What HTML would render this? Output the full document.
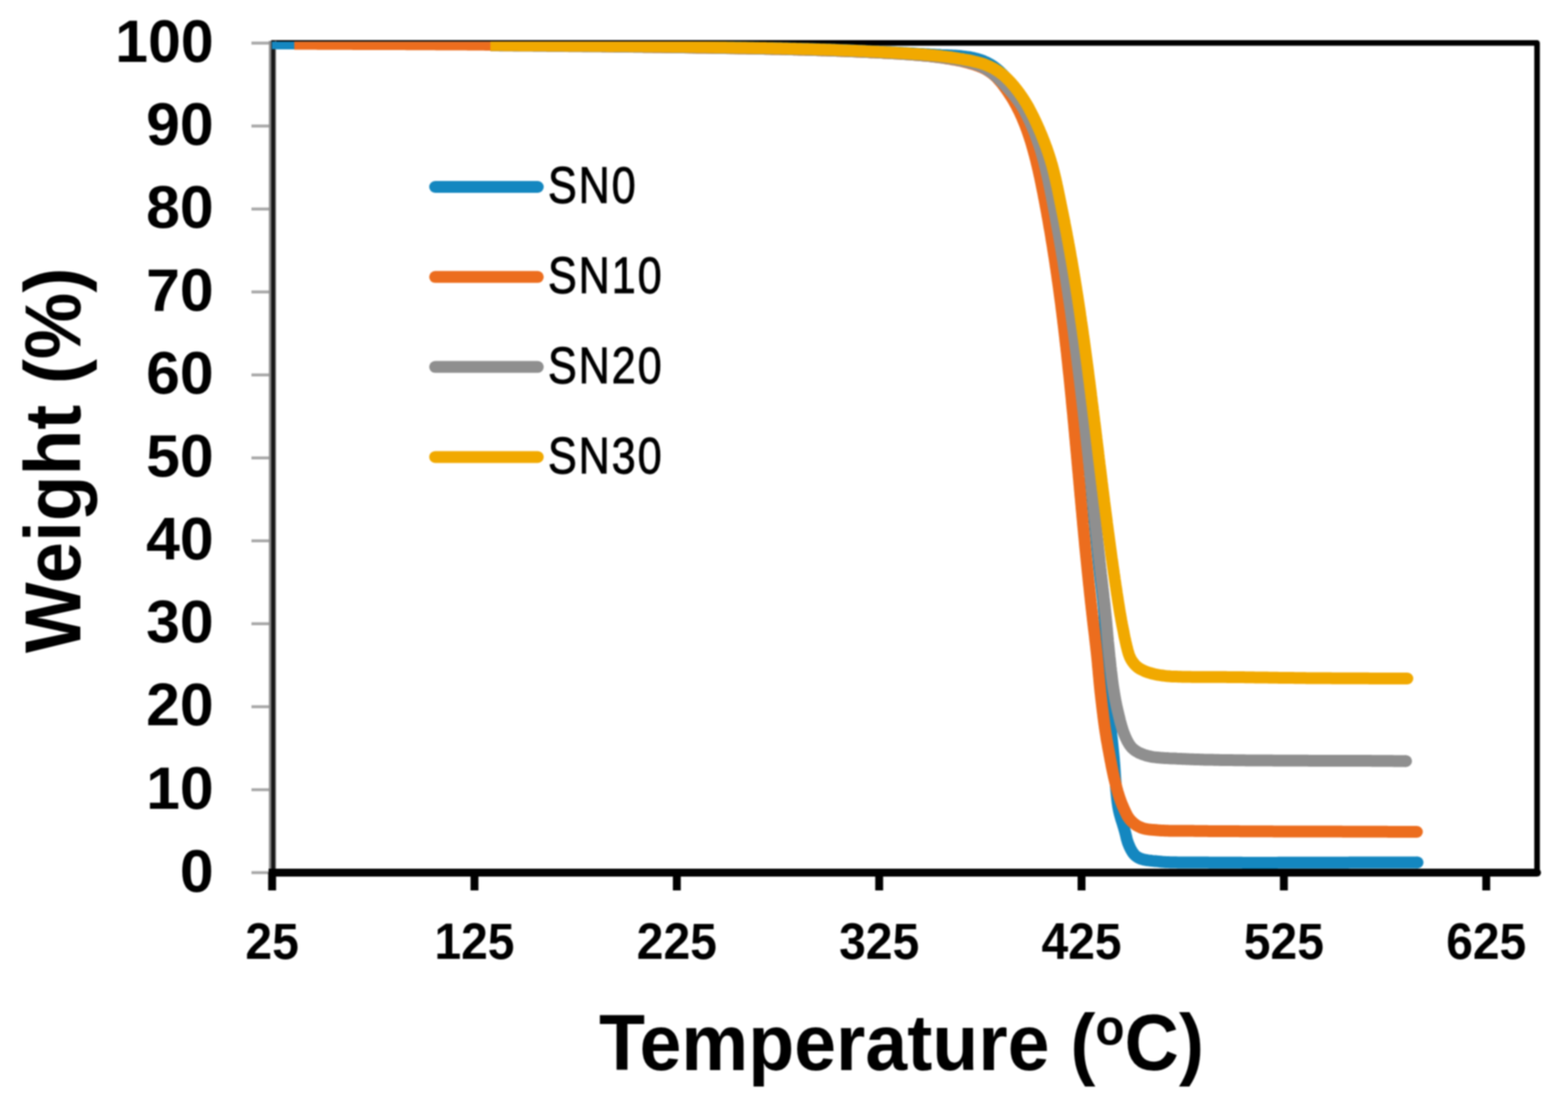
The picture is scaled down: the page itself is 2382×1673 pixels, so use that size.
<!DOCTYPE html>
<html><head><meta charset="utf-8"><style>
html,body{margin:0;padding:0;background:#fff;}
svg{display:block;}
#wrap{filter:blur(0.8px);width:2382px;height:1673px;overflow:hidden;}
text{font-family:"Liberation Sans",Arial,sans-serif;fill:#000;}
.yl text{font-weight:bold;font-size:90px;}
.xl text{font-weight:bold;font-size:78px;}
.lg{font-size:77px;letter-spacing:3.5px;stroke:#000;stroke-width:1.3px;}
.ttl{font-weight:bold;font-size:120px;}
</style></head><body><div id="wrap">
<svg width="2382" height="1673" viewBox="0 0 2382 1673">
<rect width="2382" height="1673" fill="#fff"/>
<defs><clipPath id="pa"><rect x="413" y="63.3" width="1922" height="1264"/></clipPath></defs>
<g stroke="#a8a8a8" stroke-width="4.5"><line x1="382" y1="1326.0" x2="412" y2="1326.0"/><line x1="382" y1="1200.0" x2="412" y2="1200.0"/><line x1="382" y1="1073.9" x2="412" y2="1073.9"/><line x1="382" y1="947.8" x2="412" y2="947.8"/><line x1="382" y1="821.8" x2="412" y2="821.8"/><line x1="382" y1="695.8" x2="412" y2="695.8"/><line x1="382" y1="569.7" x2="412" y2="569.7"/><line x1="382" y1="443.6" x2="412" y2="443.6"/><line x1="382" y1="317.6" x2="412" y2="317.6"/><line x1="382" y1="191.5" x2="412" y2="191.5"/><line x1="382" y1="65.5" x2="412" y2="65.5"/></g>
<path d="M412 65.2 H2335 V1326" fill="none" stroke="#000" stroke-width="8.5" stroke-linejoin="round"/>
<line x1="414" y1="62" x2="414" y2="1326" stroke="#8a8a8a" stroke-width="11"/>
<line x1="415" y1="62" x2="415" y2="1326" stroke="#1a1a1a" stroke-width="6"/>
<g stroke="#000" stroke-width="12"><line x1="413.4" y1="1326" x2="413.4" y2="1353"/><line x1="720.8" y1="1326" x2="720.8" y2="1353"/><line x1="1028.2" y1="1326" x2="1028.2" y2="1353"/><line x1="1335.6" y1="1326" x2="1335.6" y2="1353"/><line x1="1643.0" y1="1326" x2="1643.0" y2="1353"/><line x1="1950.4" y1="1326" x2="1950.4" y2="1353"/><line x1="2257.8" y1="1326" x2="2257.8" y2="1353"/></g>
<line x1="408" y1="1326" x2="2335" y2="1326" stroke="#000" stroke-width="12"/><circle cx="2335" cy="1326" r="6"/>
<g clip-path="url(#pa)" fill="none" stroke-width="18" stroke-linecap="butt" stroke-linejoin="round">
<path d="M404.0 65.8 L407.0 65.8 L410.0 65.8 L413.0 65.8 L416.0 65.8 L419.0 65.8 L422.0 65.9 L425.0 65.9 L428.0 65.9 L431.0 65.9 L434.0 65.9 L437.0 65.9 L440.0 65.9 L443.0 65.9 L446.0 65.9 L449.0 65.9 L452.0 65.9 L455.0 65.9 L458.0 66.0 L461.0 66.0 L464.0 66.0 L467.0 66.0 L470.0 66.0 L473.0 66.0 L476.0 66.0 L479.0 66.0 L482.0 66.0 L485.0 66.0 L488.0 66.0 L491.0 66.0 L494.0 66.0 L497.0 66.0 L500.0 66.0 L503.0 66.1 L506.0 66.1 L509.0 66.1 L512.0 66.1 L515.0 66.1 L518.0 66.1 L521.0 66.1 L524.0 66.1 L527.0 66.1 L530.0 66.1 L533.0 66.1 L536.0 66.1 L539.0 66.1 L542.0 66.1 L545.0 66.1 L548.0 66.1 L551.0 66.1 L554.0 66.2 L557.0 66.2 L560.0 66.2 L563.0 66.2 L566.0 66.2 L569.0 66.2 L572.0 66.2 L575.0 66.2 L578.0 66.2 L581.0 66.2 L584.0 66.2 L587.0 66.2 L590.0 66.2 L593.0 66.2 L596.0 66.2 L599.0 66.3 L602.0 66.3 L605.0 66.3 L608.0 66.3 L611.0 66.3 L614.0 66.3 L617.0 66.3 L620.0 66.3 L623.0 66.3 L626.0 66.3 L629.0 66.3 L632.0 66.3 L635.0 66.4 L638.0 66.4 L641.0 66.4 L644.0 66.4 L647.0 66.4 L650.0 66.4 L653.0 66.4 L656.0 66.4 L659.0 66.4 L662.0 66.5 L665.0 66.5 L668.0 66.5 L671.0 66.5 L674.0 66.5 L677.0 66.5 L680.0 66.5 L683.0 66.5 L686.0 66.6 L689.0 66.6 L692.0 66.6 L695.0 66.6 L698.0 66.6 L701.0 66.6 L704.0 66.7 L707.0 66.7 L710.0 66.7 L713.0 66.7 L716.0 66.7 L719.0 66.7 L722.0 66.8 L725.0 66.8 L728.0 66.8 L731.0 66.8 L734.0 66.9 L737.0 66.9 L740.0 66.9 L743.0 66.9 L746.0 66.9 L749.0 67.0 L752.0 67.0 L755.0 67.0 L758.0 67.0 L761.0 67.1 L764.0 67.1 L767.0 67.1 L770.0 67.1 L773.0 67.2 L776.0 67.2 L779.0 67.2 L782.0 67.3 L785.0 67.3 L788.0 67.3 L791.0 67.4 L794.0 67.4 L797.0 67.4 L800.0 67.5 L803.0 67.5 L806.0 67.5 L809.0 67.6 L812.0 67.6 L815.0 67.6 L818.0 67.7 L821.0 67.7 L824.0 67.7 L827.0 67.8 L830.0 67.8 L833.0 67.8 L836.0 67.9 L839.0 67.9 L842.0 68.0 L845.0 68.0 L848.0 68.0 L851.0 68.1 L854.0 68.1 L857.0 68.2 L860.0 68.2 L863.0 68.2 L866.0 68.3 L869.0 68.3 L872.0 68.4 L875.0 68.4 L878.0 68.5 L881.0 68.5 L884.0 68.5 L887.0 68.6 L890.0 68.6 L893.0 68.7 L896.0 68.7 L899.0 68.8 L902.0 68.8 L905.0 68.8 L908.0 68.9 L911.0 68.9 L914.0 69.0 L917.0 69.0 L920.0 69.1 L923.0 69.1 L926.0 69.2 L929.0 69.2 L932.0 69.3 L935.0 69.3 L938.0 69.3 L941.0 69.4 L944.0 69.4 L947.0 69.5 L950.0 69.5 L953.0 69.6 L956.0 69.6 L959.0 69.7 L962.0 69.7 L965.0 69.8 L968.0 69.8 L971.0 69.9 L974.0 69.9 L977.0 70.0 L980.0 70.0 L983.0 70.0 L986.0 70.1 L989.0 70.1 L992.0 70.2 L995.0 70.2 L998.0 70.3 L1001.0 70.3 L1004.0 70.4 L1007.0 70.4 L1010.0 70.4 L1013.0 70.5 L1016.0 70.5 L1019.0 70.6 L1022.0 70.6 L1025.0 70.7 L1028.0 70.7 L1031.0 70.8 L1034.0 70.8 L1037.0 70.8 L1040.0 70.9 L1043.0 70.9 L1046.0 71.0 L1049.0 71.0 L1052.0 71.1 L1055.0 71.1 L1058.0 71.1 L1061.0 71.2 L1064.0 71.2 L1067.0 71.3 L1070.0 71.3 L1073.0 71.4 L1076.0 71.4 L1079.0 71.4 L1082.0 71.5 L1085.0 71.5 L1088.0 71.6 L1091.0 71.6 L1094.0 71.7 L1097.0 71.7 L1100.0 71.8 L1103.0 71.8 L1106.0 71.9 L1109.0 71.9 L1112.0 71.9 L1115.0 72.0 L1118.0 72.0 L1121.0 72.1 L1124.0 72.1 L1127.0 72.2 L1130.0 72.2 L1133.0 72.3 L1136.0 72.3 L1139.0 72.4 L1142.0 72.4 L1145.0 72.5 L1148.0 72.5 L1151.0 72.6 L1154.0 72.7 L1157.0 72.7 L1160.0 72.8 L1163.0 72.8 L1166.0 72.9 L1169.0 72.9 L1172.0 73.0 L1175.0 73.1 L1178.0 73.1 L1181.0 73.2 L1184.0 73.2 L1187.0 73.3 L1190.0 73.4 L1193.0 73.5 L1196.0 73.5 L1199.0 73.6 L1202.0 73.7 L1205.0 73.7 L1208.0 73.8 L1211.0 73.9 L1214.0 74.0 L1217.0 74.0 L1220.0 74.1 L1223.0 74.2 L1226.0 74.3 L1229.0 74.4 L1232.0 74.4 L1235.0 74.5 L1238.0 74.6 L1241.0 74.7 L1244.0 74.8 L1247.0 74.9 L1250.0 75.0 L1253.0 75.1 L1256.0 75.2 L1259.0 75.3 L1262.0 75.4 L1265.0 75.5 L1268.0 75.6 L1271.0 75.7 L1274.0 75.8 L1277.0 75.9 L1280.0 76.0 L1283.0 76.1 L1286.0 76.3 L1289.0 76.4 L1292.0 76.5 L1295.0 76.6 L1298.0 76.7 L1301.0 76.9 L1304.0 77.0 L1307.0 77.1 L1310.0 77.3 L1313.0 77.4 L1316.0 77.5 L1319.0 77.7 L1322.0 77.8 L1325.0 78.0 L1328.0 78.1 L1331.0 78.3 L1334.0 78.4 L1337.0 78.5 L1340.0 78.7 L1343.0 78.9 L1346.0 79.0 L1349.0 79.2 L1351.9 79.3 L1354.9 79.5 L1357.9 79.6 L1360.9 79.8 L1363.9 80.0 L1366.9 80.1 L1369.9 80.3 L1372.9 80.5 L1375.9 80.6 L1378.9 80.8 L1381.9 81.0 L1384.9 81.1 L1387.9 81.3 L1390.9 81.5 L1393.9 81.7 L1396.9 81.9 L1399.9 82.0 L1402.9 82.2 L1405.9 82.4 L1408.9 82.6 L1411.9 82.8 L1414.8 83.0 L1417.8 83.1 L1420.8 83.3 L1423.8 83.5 L1426.8 83.6 L1429.8 83.8 L1432.8 83.9 L1435.8 84.0 L1438.8 84.1 L1441.8 84.2 L1444.8 84.3 L1447.8 84.5 L1450.8 84.6 L1453.8 84.8 L1456.8 85.0 L1459.8 85.3 L1462.7 85.6 L1465.7 85.9 L1468.7 86.3 L1471.6 86.7 L1474.6 87.2 L1477.5 87.8 L1480.4 88.5 L1483.3 89.2 L1486.1 90.0 L1489.0 90.9 L1491.8 91.8 L1494.5 92.9 L1497.2 94.1 L1499.9 95.4 L1502.5 96.7 L1505.0 98.2 L1507.5 99.8 L1510.0 101.5 L1512.3 103.2 L1514.7 105.1 L1516.9 107.0 L1519.1 109.0 L1521.3 111.1 L1523.4 113.2 L1525.5 115.3 L1527.5 117.5 L1529.5 119.7 L1531.5 122.0 L1533.4 124.3 L1535.3 126.6 L1537.2 128.9 L1539.0 131.3 L1540.9 133.7 L1542.7 136.1 L1544.4 138.5 L1546.2 140.9 L1548.0 143.3 L1549.7 145.8 L1551.4 148.3 L1553.0 150.7 L1554.7 153.3 L1556.3 155.8 L1557.8 158.3 L1559.3 160.9 L1560.8 163.5 L1562.3 166.1 L1563.7 168.8 L1565.0 171.4 L1566.3 174.1 L1567.6 176.8 L1568.9 179.6 L1570.1 182.3 L1571.3 185.0 L1572.4 187.8 L1573.5 190.6 L1574.6 193.4 L1575.7 196.2 L1576.8 199.0 L1577.8 201.8 L1578.8 204.6 L1579.8 207.4 L1580.8 210.3 L1581.7 213.1 L1582.7 216.0 L1583.6 218.8 L1584.5 221.7 L1585.4 224.5 L1586.3 227.4 L1587.1 230.3 L1588.0 233.2 L1588.8 236.0 L1589.6 238.9 L1590.4 241.8 L1591.2 244.7 L1591.9 247.6 L1592.6 250.5 L1593.4 253.4 L1594.0 256.4 L1594.7 259.3 L1595.4 262.2 L1596.0 265.1 L1596.7 268.1 L1597.3 271.0 L1597.9 273.9 L1598.5 276.9 L1599.1 279.8 L1599.7 282.8 L1600.2 285.7 L1600.8 288.6 L1601.4 291.6 L1601.9 294.5 L1602.5 297.5 L1603.0 300.4 L1603.6 303.4 L1604.1 306.3 L1604.6 309.3 L1605.2 312.2 L1605.7 315.2 L1606.3 318.1 L1606.8 321.1 L1607.3 324.1 L1607.9 327.0 L1608.4 330.0 L1608.9 332.9 L1609.4 335.9 L1610.0 338.8 L1610.5 341.8 L1611.0 344.7 L1611.5 347.7 L1612.0 350.6 L1612.5 353.6 L1613.0 356.6 L1613.5 359.5 L1614.0 362.5 L1614.5 365.4 L1615.0 368.4 L1615.4 371.4 L1615.9 374.3 L1616.4 377.3 L1616.9 380.3 L1617.3 383.2 L1617.8 386.2 L1618.3 389.1 L1618.7 392.1 L1619.2 395.1 L1619.6 398.0 L1620.1 401.0 L1620.5 404.0 L1621.0 406.9 L1621.4 409.9 L1621.8 412.9 L1622.3 415.8 L1622.7 418.8 L1623.1 421.8 L1623.6 424.8 L1624.0 427.7 L1624.4 430.7 L1624.8 433.7 L1625.2 436.6 L1625.7 439.6 L1626.1 442.6 L1626.5 445.6 L1626.9 448.5 L1627.3 451.5 L1627.7 454.5 L1628.1 457.5 L1628.5 460.4 L1628.8 463.4 L1629.2 466.4 L1629.6 469.4 L1630.0 472.3 L1630.4 475.3 L1630.8 478.3 L1631.1 481.3 L1631.5 484.2 L1631.9 487.2 L1632.2 490.2 L1632.6 493.2 L1633.0 496.1 L1633.3 499.1 L1633.7 502.1 L1634.1 505.1 L1634.4 508.1 L1634.8 511.0 L1635.1 514.0 L1635.5 517.0 L1635.8 520.0 L1636.1 523.0 L1636.5 525.9 L1636.8 528.9 L1637.2 531.9 L1637.5 534.9 L1637.8 537.9 L1638.2 540.8 L1638.5 543.8 L1638.8 546.8 L1639.2 549.8 L1639.5 552.8 L1639.8 555.8 L1640.1 558.7 L1640.5 561.7 L1640.8 564.7 L1641.1 567.7 L1641.4 570.7 L1641.7 573.7 L1642.1 576.6 L1642.4 579.6 L1642.7 582.6 L1643.0 585.6 L1643.3 588.6 L1643.6 591.6 L1643.9 594.5 L1644.2 597.5 L1644.5 600.5 L1644.8 603.5 L1645.1 606.5 L1645.4 609.5 L1645.7 612.5 L1646.0 615.4 L1646.3 618.4 L1646.6 621.4 L1646.9 624.4 L1647.2 627.4 L1647.5 630.4 L1647.8 633.4 L1648.1 636.3 L1648.4 639.3 L1648.7 642.3 L1649.0 645.3 L1649.2 648.3 L1649.5 651.3 L1649.8 654.3 L1650.1 657.2 L1650.4 660.2 L1650.7 663.2 L1651.0 666.2 L1651.2 669.2 L1651.5 672.2 L1651.8 675.2 L1652.1 678.2 L1652.4 681.1 L1652.7 684.1 L1652.9 687.1 L1653.2 690.1 L1653.5 693.1 L1653.8 696.1 L1654.1 699.1 L1654.4 702.1 L1654.6 705.0 L1654.9 708.0 L1655.2 711.0 L1655.5 714.0 L1655.8 717.0 L1656.0 720.0 L1656.3 723.0 L1656.6 726.0 L1656.9 728.9 L1657.2 731.9 L1657.4 734.9 L1657.7 737.9 L1658.0 740.9 L1658.3 743.9 L1658.6 746.9 L1658.8 749.9 L1659.1 752.8 L1659.4 755.8 L1659.7 758.8 L1660.0 761.8 L1660.3 764.8 L1660.5 767.8 L1660.8 770.8 L1661.1 773.7 L1661.4 776.7 L1661.7 779.7 L1662.0 782.7 L1662.2 785.7 L1662.5 788.7 L1662.8 791.7 L1663.1 794.7 L1663.4 797.6 L1663.7 800.6 L1664.0 803.6 L1664.3 806.6 L1664.6 809.6 L1664.9 812.6 L1665.2 815.6 L1665.5 818.5 L1665.8 821.5 L1666.1 824.5 L1666.4 827.5 L1666.7 830.5 L1667.0 833.5 L1667.3 836.5 L1667.6 839.4 L1667.9 842.4 L1668.2 845.4 L1668.5 848.4 L1668.8 851.4 L1669.1 854.4 L1669.4 857.3 L1669.7 860.3 L1670.1 863.3 L1670.4 866.3 L1670.7 869.3 L1671.1 872.3 L1671.4 875.2 L1671.7 878.2 L1672.1 881.2 L1672.4 884.2 L1672.8 887.2 L1673.2 890.1 L1673.5 893.1 L1673.9 896.1 L1674.2 899.1 L1674.6 902.1 L1674.9 905.0 L1675.3 908.0 L1675.6 911.0 L1675.9 914.0 L1676.2 917.0 L1676.5 919.9 L1676.8 922.9 L1677.1 925.9 L1677.3 928.9 L1677.6 931.9 L1677.8 934.9 L1678.0 937.9 L1678.2 940.9 L1678.3 943.9 L1678.5 946.9 L1678.6 949.9 L1678.8 952.9 L1678.9 955.9 L1679.0 958.9 L1679.1 961.9 L1679.2 964.9 L1679.3 967.9 L1679.4 970.9 L1679.5 973.9 L1679.6 976.9 L1679.7 979.9 L1679.8 982.9 L1679.9 985.9 L1680.0 988.8 L1680.1 991.8 L1680.3 994.8 L1680.4 997.8 L1680.5 1000.8 L1680.7 1003.8 L1680.8 1006.8 L1681.0 1009.8 L1681.1 1012.8 L1681.3 1015.8 L1681.4 1018.8 L1681.6 1021.8 L1681.7 1024.8 L1681.9 1027.8 L1682.1 1030.8 L1682.2 1033.8 L1682.4 1036.8 L1682.5 1039.8 L1682.7 1042.8 L1682.9 1045.8 L1683.0 1048.8 L1683.2 1051.8 L1683.4 1054.8 L1683.5 1057.8 L1683.7 1060.8 L1683.9 1063.8 L1684.1 1066.8 L1684.3 1069.7 L1684.5 1072.7 L1684.7 1075.7 L1684.9 1078.7 L1685.2 1081.7 L1685.4 1084.7 L1685.6 1087.7 L1685.9 1090.7 L1686.1 1093.7 L1686.4 1096.7 L1686.7 1099.7 L1687.0 1102.6 L1687.3 1105.6 L1687.6 1108.6 L1687.9 1111.6 L1688.2 1114.6 L1688.5 1117.6 L1688.8 1120.5 L1689.2 1123.5 L1689.5 1126.5 L1689.8 1129.5 L1690.1 1132.5 L1690.4 1135.5 L1690.7 1138.4 L1691.0 1141.4 L1691.3 1144.4 L1691.6 1147.4 L1691.9 1150.4 L1692.2 1153.4 L1692.4 1156.4 L1692.6 1159.4 L1692.9 1162.4 L1693.1 1165.3 L1693.3 1168.3 L1693.5 1171.3 L1693.7 1174.3 L1693.9 1177.3 L1694.1 1180.3 L1694.3 1183.3 L1694.5 1186.3 L1694.8 1189.3 L1695.0 1192.3 L1695.2 1195.3 L1695.5 1198.3 L1695.7 1201.3 L1696.0 1204.2 L1696.3 1207.2 L1696.6 1210.2 L1696.9 1213.2 L1697.3 1216.2 L1697.6 1219.1 L1698.1 1222.1 L1698.5 1225.1 L1699.1 1228.0 L1699.6 1231.0 L1700.3 1233.9 L1701.0 1236.8 L1701.8 1239.7 L1702.6 1242.6 L1703.5 1245.5 L1704.4 1248.3 L1705.3 1251.2 L1706.2 1254.1 L1707.1 1256.9 L1707.9 1259.8 L1708.7 1262.7 L1709.5 1265.6 L1710.2 1268.5 L1710.9 1271.4 L1711.6 1274.3 L1712.4 1277.2 L1713.3 1280.1 L1714.4 1282.9 L1715.5 1285.6 L1716.8 1288.4 L1718.1 1291.0 L1719.6 1293.6 L1721.3 1296.1 L1723.1 1298.4 L1725.2 1300.5 L1727.6 1302.2 L1730.2 1303.7 L1732.9 1304.8 L1735.8 1305.7 L1738.7 1306.4 L1741.6 1307.0 L1744.6 1307.4 L1747.6 1307.7 L1750.5 1308.1 L1753.5 1308.4 L1756.5 1308.6 L1759.5 1308.9 L1762.5 1309.2 L1765.5 1309.5 L1768.5 1309.7 L1771.5 1309.9 L1774.5 1310.0 L1777.5 1310.2 L1780.5 1310.2 L1783.5 1310.3 L1786.5 1310.3 L1789.5 1310.4 L1792.5 1310.4 L1795.5 1310.4 L1798.5 1310.4 L1801.5 1310.4 L1804.5 1310.4 L1807.5 1310.4 L1810.5 1310.4 L1813.5 1310.4 L1816.5 1310.5 L1819.5 1310.5 L1822.5 1310.5 L1825.5 1310.6 L1828.5 1310.6 L1831.5 1310.6 L1834.5 1310.6 L1837.5 1310.7 L1840.5 1310.7 L1843.5 1310.7 L1846.5 1310.7 L1849.5 1310.7 L1852.5 1310.8 L1855.5 1310.8 L1858.5 1310.8 L1861.5 1310.8 L1864.5 1310.8 L1867.5 1310.8 L1870.5 1310.8 L1873.5 1310.8 L1876.5 1310.8 L1879.5 1310.8 L1882.5 1310.8 L1885.5 1310.8 L1888.5 1310.9 L1891.5 1310.9 L1894.5 1310.9 L1897.5 1310.9 L1900.5 1310.9 L1903.5 1310.9 L1906.5 1310.9 L1909.5 1310.9 L1912.5 1310.9 L1915.5 1310.9 L1918.5 1310.9 L1921.5 1310.9 L1924.5 1310.9 L1927.5 1310.9 L1930.5 1310.9 L1933.5 1310.9 L1936.5 1310.9 L1939.5 1310.9 L1942.5 1310.8 L1945.5 1310.8 L1948.5 1310.8 L1951.5 1310.8 L1954.5 1310.8 L1957.5 1310.8 L1960.5 1310.8 L1963.5 1310.8 L1966.5 1310.8 L1969.5 1310.8 L1972.5 1310.8 L1975.5 1310.8 L1978.5 1310.8 L1981.5 1310.8 L1984.5 1310.8 L1987.5 1310.8 L1990.5 1310.8 L1993.5 1310.8 L1996.5 1310.8 L1999.5 1310.8 L2002.5 1310.7 L2005.5 1310.7 L2008.5 1310.7 L2011.5 1310.7 L2014.5 1310.7 L2017.5 1310.7 L2020.5 1310.7 L2023.5 1310.7 L2026.5 1310.7 L2029.5 1310.7 L2032.5 1310.7 L2035.5 1310.7 L2038.5 1310.7 L2041.5 1310.7 L2044.5 1310.7 L2047.5 1310.7 L2050.5 1310.6 L2053.5 1310.6 L2056.5 1310.6 L2059.5 1310.6 L2062.5 1310.6 L2065.5 1310.6 L2068.5 1310.6 L2071.5 1310.6 L2074.5 1310.6 L2077.5 1310.6 L2080.5 1310.6 L2083.5 1310.6 L2086.5 1310.6 L2089.5 1310.6 L2092.5 1310.6 L2095.5 1310.6 L2098.5 1310.6 L2101.5 1310.5 L2104.5 1310.5 L2107.5 1310.5 L2110.5 1310.5 L2113.5 1310.5 L2116.5 1310.5 L2119.5 1310.5 L2122.5 1310.5 L2125.5 1310.5 L2128.5 1310.5 L2131.5 1310.5 L2134.5 1310.5 L2137.5 1310.5 L2140.5 1310.5 L2143.5 1310.5 L2146.5 1310.5 L2149.5 1310.5 L2152.5 1310.5 L2153.5 1310.5" stroke="#1487C0"/><circle cx="2153.5" cy="1310.5" r="9.0" fill="#1487C0" stroke="none"/>
<path d="M447.0 66.5 L450.0 66.5 L453.0 66.5 L456.0 66.5 L459.0 66.6 L462.0 66.6 L465.0 66.6 L468.0 66.6 L471.0 66.6 L474.0 66.6 L477.0 66.6 L480.0 66.6 L483.0 66.7 L486.0 66.7 L489.0 66.7 L492.0 66.7 L495.0 66.7 L498.0 66.7 L501.0 66.7 L504.0 66.7 L507.0 66.8 L510.0 66.8 L513.0 66.8 L516.0 66.8 L519.0 66.8 L522.0 66.8 L525.0 66.8 L528.0 66.8 L531.0 66.8 L534.0 66.8 L537.0 66.9 L540.0 66.9 L543.0 66.9 L546.0 66.9 L549.0 66.9 L552.0 66.9 L555.0 66.9 L558.0 66.9 L561.0 66.9 L564.0 67.0 L567.0 67.0 L570.0 67.0 L573.0 67.0 L576.0 67.0 L579.0 67.0 L582.0 67.0 L585.0 67.0 L588.0 67.0 L591.0 67.0 L594.0 67.1 L597.0 67.1 L600.0 67.1 L603.0 67.1 L606.0 67.1 L609.0 67.1 L612.0 67.1 L615.0 67.1 L618.0 67.2 L621.1 67.2 L624.1 67.2 L627.1 67.2 L630.1 67.2 L633.1 67.2 L636.1 67.2 L639.1 67.2 L642.1 67.3 L645.1 67.3 L648.1 67.3 L651.1 67.3 L654.1 67.3 L657.1 67.3 L660.1 67.3 L663.1 67.4 L666.1 67.4 L669.1 67.4 L672.1 67.4 L675.1 67.4 L678.1 67.4 L681.1 67.5 L684.1 67.5 L687.1 67.5 L690.1 67.5 L693.1 67.5 L696.1 67.5 L699.1 67.6 L702.1 67.6 L705.1 67.6 L708.1 67.6 L711.1 67.7 L714.1 67.7 L717.1 67.7 L720.1 67.7 L723.1 67.7 L726.1 67.8 L729.1 67.8 L732.1 67.8 L735.1 67.8 L738.1 67.9 L741.1 67.9 L744.1 67.9 L747.1 67.9 L750.1 68.0 L753.1 68.0 L756.1 68.0 L759.1 68.1 L762.1 68.1 L765.1 68.1 L768.1 68.1 L771.1 68.2 L774.1 68.2 L777.1 68.2 L780.1 68.3 L783.1 68.3 L786.1 68.3 L789.1 68.4 L792.1 68.4 L795.1 68.5 L798.1 68.5 L801.1 68.5 L804.1 68.6 L807.1 68.6 L810.1 68.6 L813.1 68.7 L816.1 68.7 L819.1 68.8 L822.1 68.8 L825.1 68.8 L828.1 68.9 L831.1 68.9 L834.1 69.0 L837.1 69.0 L840.1 69.0 L843.1 69.1 L846.1 69.1 L849.1 69.2 L852.1 69.2 L855.1 69.3 L858.1 69.3 L861.1 69.3 L864.1 69.4 L867.1 69.4 L870.1 69.5 L873.1 69.5 L876.1 69.6 L879.1 69.6 L882.1 69.7 L885.1 69.7 L888.1 69.8 L891.1 69.8 L894.1 69.8 L897.1 69.9 L900.1 69.9 L903.1 70.0 L906.1 70.0 L909.1 70.1 L912.1 70.1 L915.1 70.2 L918.1 70.2 L921.1 70.3 L924.1 70.3 L927.1 70.4 L930.1 70.4 L933.1 70.5 L936.1 70.5 L939.1 70.6 L942.1 70.6 L945.1 70.6 L948.1 70.7 L951.1 70.7 L954.1 70.8 L957.1 70.8 L960.1 70.9 L963.1 70.9 L966.1 71.0 L969.1 71.0 L972.1 71.1 L975.1 71.1 L978.1 71.2 L981.1 71.2 L984.1 71.3 L987.1 71.3 L990.1 71.3 L993.1 71.4 L996.1 71.4 L999.1 71.5 L1002.1 71.5 L1005.1 71.6 L1008.1 71.6 L1011.1 71.7 L1014.1 71.7 L1017.1 71.7 L1020.1 71.8 L1023.1 71.8 L1026.1 71.9 L1029.1 71.9 L1032.1 72.0 L1035.1 72.0 L1038.1 72.0 L1041.1 72.1 L1044.1 72.1 L1047.1 72.2 L1050.1 72.2 L1053.1 72.3 L1056.1 72.3 L1059.1 72.4 L1062.1 72.4 L1065.1 72.4 L1068.1 72.5 L1071.1 72.5 L1074.2 72.6 L1077.2 72.6 L1080.2 72.7 L1083.2 72.7 L1086.2 72.8 L1089.2 72.8 L1092.2 72.9 L1095.2 72.9 L1098.2 73.0 L1101.2 73.0 L1104.2 73.1 L1107.2 73.1 L1110.2 73.2 L1113.2 73.2 L1116.2 73.3 L1119.2 73.3 L1122.2 73.4 L1125.2 73.4 L1128.2 73.5 L1131.2 73.5 L1134.2 73.6 L1137.2 73.7 L1140.2 73.7 L1143.2 73.8 L1146.2 73.8 L1149.2 73.9 L1152.2 73.9 L1155.2 74.0 L1158.2 74.1 L1161.2 74.1 L1164.2 74.2 L1167.2 74.2 L1170.2 74.3 L1173.2 74.4 L1176.2 74.4 L1179.2 74.5 L1182.2 74.6 L1185.2 74.6 L1188.2 74.7 L1191.2 74.8 L1194.2 74.9 L1197.2 74.9 L1200.2 75.0 L1203.2 75.1 L1206.2 75.2 L1209.2 75.3 L1212.2 75.3 L1215.2 75.4 L1218.2 75.5 L1221.2 75.6 L1224.2 75.7 L1227.2 75.7 L1230.2 75.8 L1233.2 75.9 L1236.2 76.0 L1239.2 76.1 L1242.2 76.2 L1245.2 76.3 L1248.2 76.4 L1251.2 76.5 L1254.2 76.6 L1257.2 76.7 L1260.2 76.8 L1263.2 76.9 L1266.2 77.0 L1269.2 77.1 L1272.2 77.2 L1275.2 77.3 L1278.1 77.4 L1281.1 77.5 L1284.1 77.7 L1287.1 77.8 L1290.1 77.9 L1293.1 78.0 L1296.1 78.1 L1299.1 78.3 L1302.1 78.4 L1305.1 78.5 L1308.1 78.7 L1311.1 78.8 L1314.1 78.9 L1317.1 79.1 L1320.1 79.2 L1323.1 79.4 L1326.1 79.5 L1329.1 79.6 L1332.1 79.8 L1335.1 79.9 L1338.1 80.1 L1341.1 80.2 L1344.1 80.4 L1347.1 80.5 L1350.1 80.7 L1353.1 80.8 L1356.1 81.0 L1359.1 81.2 L1362.1 81.3 L1365.1 81.5 L1368.1 81.7 L1371.1 81.9 L1374.1 82.1 L1377.1 82.3 L1380.0 82.5 L1383.0 82.7 L1386.0 82.9 L1389.0 83.2 L1392.0 83.4 L1395.0 83.7 L1398.0 83.9 L1401.0 84.2 L1404.0 84.5 L1407.0 84.8 L1409.9 85.1 L1412.9 85.4 L1415.9 85.8 L1418.9 86.1 L1421.9 86.5 L1424.8 86.9 L1427.8 87.2 L1430.8 87.7 L1433.8 88.1 L1436.7 88.5 L1439.7 89.0 L1442.6 89.5 L1445.6 90.0 L1448.6 90.5 L1451.5 91.0 L1454.4 91.6 L1457.4 92.2 L1460.3 92.8 L1463.2 93.5 L1466.2 94.2 L1469.1 94.9 L1472.0 95.7 L1474.8 96.5 L1477.7 97.3 L1480.6 98.2 L1483.4 99.2 L1486.2 100.2 L1488.9 101.3 L1491.7 102.4 L1494.3 103.7 L1497.0 105.0 L1499.5 106.5 L1502.0 108.0 L1504.5 109.7 L1506.8 111.4 L1509.1 113.3 L1511.3 115.2 L1513.5 117.3 L1515.5 119.4 L1517.5 121.6 L1519.4 123.8 L1521.3 126.1 L1523.2 128.5 L1525.0 130.9 L1526.7 133.3 L1528.5 135.7 L1530.2 138.2 L1531.9 140.7 L1533.5 143.2 L1535.2 145.7 L1536.8 148.2 L1538.4 150.7 L1539.9 153.3 L1541.4 155.9 L1542.8 158.5 L1544.3 161.1 L1545.6 163.8 L1547.0 166.5 L1548.3 169.2 L1549.6 171.9 L1550.8 174.6 L1552.1 177.3 L1553.3 180.1 L1554.4 182.8 L1555.6 185.6 L1556.7 188.4 L1557.8 191.2 L1558.8 194.0 L1559.9 196.8 L1560.9 199.6 L1561.9 202.5 L1562.8 205.3 L1563.8 208.1 L1564.7 211.0 L1565.6 213.8 L1566.5 216.7 L1567.4 219.6 L1568.2 222.5 L1569.0 225.3 L1569.8 228.2 L1570.6 231.1 L1571.4 234.0 L1572.2 236.9 L1572.9 239.8 L1573.7 242.7 L1574.4 245.6 L1575.1 248.6 L1575.8 251.5 L1576.5 254.4 L1577.2 257.3 L1577.8 260.2 L1578.5 263.2 L1579.1 266.1 L1579.8 269.0 L1580.4 272.0 L1581.0 274.9 L1581.6 277.8 L1582.2 280.8 L1582.8 283.7 L1583.4 286.7 L1584.0 289.6 L1584.6 292.5 L1585.2 295.5 L1585.7 298.4 L1586.3 301.4 L1586.9 304.3 L1587.4 307.3 L1588.0 310.2 L1588.5 313.2 L1589.1 316.1 L1589.6 319.1 L1590.2 322.0 L1590.7 325.0 L1591.2 327.9 L1591.8 330.9 L1592.3 333.8 L1592.8 336.8 L1593.3 339.8 L1593.8 342.7 L1594.3 345.7 L1594.9 348.6 L1595.4 351.6 L1595.9 354.5 L1596.4 357.5 L1596.9 360.5 L1597.3 363.4 L1597.8 366.4 L1598.3 369.3 L1598.8 372.3 L1599.3 375.3 L1599.7 378.2 L1600.2 381.2 L1600.7 384.2 L1601.1 387.1 L1601.6 390.1 L1602.1 393.1 L1602.5 396.0 L1603.0 399.0 L1603.4 402.0 L1603.8 404.9 L1604.3 407.9 L1604.7 410.9 L1605.1 413.8 L1605.6 416.8 L1606.0 419.8 L1606.4 422.7 L1606.8 425.7 L1607.3 428.7 L1607.7 431.7 L1608.1 434.6 L1608.5 437.6 L1608.9 440.6 L1609.3 443.6 L1609.7 446.5 L1610.1 449.5 L1610.5 452.5 L1610.9 455.5 L1611.3 458.4 L1611.7 461.4 L1612.1 464.4 L1612.4 467.4 L1612.8 470.3 L1613.2 473.3 L1613.6 476.3 L1613.9 479.3 L1614.3 482.2 L1614.7 485.2 L1615.0 488.2 L1615.4 491.2 L1615.8 494.2 L1616.1 497.1 L1616.5 500.1 L1616.8 503.1 L1617.2 506.1 L1617.5 509.1 L1617.9 512.0 L1618.2 515.0 L1618.5 518.0 L1618.9 521.0 L1619.2 524.0 L1619.6 526.9 L1619.9 529.9 L1620.2 532.9 L1620.6 535.9 L1620.9 538.9 L1621.2 541.9 L1621.5 544.8 L1621.9 547.8 L1622.2 550.8 L1622.5 553.8 L1622.8 556.8 L1623.1 559.8 L1623.4 562.7 L1623.7 565.7 L1624.1 568.7 L1624.4 571.7 L1624.7 574.7 L1625.0 577.7 L1625.3 580.7 L1625.6 583.6 L1625.9 586.6 L1626.2 589.6 L1626.5 592.6 L1626.8 595.6 L1627.1 598.6 L1627.4 601.6 L1627.7 604.5 L1628.0 607.5 L1628.2 610.5 L1628.5 613.5 L1628.8 616.5 L1629.1 619.5 L1629.4 622.5 L1629.7 625.5 L1630.0 628.4 L1630.3 631.4 L1630.5 634.4 L1630.8 637.4 L1631.1 640.4 L1631.4 643.4 L1631.7 646.4 L1631.9 649.4 L1632.2 652.3 L1632.5 655.3 L1632.8 658.3 L1633.0 661.3 L1633.3 664.3 L1633.6 667.3 L1633.9 670.3 L1634.1 673.3 L1634.4 676.3 L1634.7 679.2 L1634.9 682.2 L1635.2 685.2 L1635.5 688.2 L1635.8 691.2 L1636.0 694.2 L1636.3 697.2 L1636.6 700.2 L1636.8 703.2 L1637.1 706.1 L1637.4 709.1 L1637.6 712.1 L1637.9 715.1 L1638.2 718.1 L1638.5 721.1 L1638.7 724.1 L1639.0 727.1 L1639.3 730.1 L1639.5 733.0 L1639.8 736.0 L1640.1 739.0 L1640.3 742.0 L1640.6 745.0 L1640.9 748.0 L1641.1 751.0 L1641.4 754.0 L1641.7 756.9 L1642.0 759.9 L1642.2 762.9 L1642.5 765.9 L1642.8 768.9 L1643.0 771.9 L1643.3 774.9 L1643.6 777.9 L1643.9 780.9 L1644.1 783.8 L1644.4 786.8 L1644.7 789.8 L1645.0 792.8 L1645.2 795.8 L1645.5 798.8 L1645.8 801.8 L1646.1 804.8 L1646.4 807.8 L1646.6 810.7 L1646.9 813.7 L1647.2 816.7 L1647.5 819.7 L1647.8 822.7 L1648.0 825.7 L1648.3 828.7 L1648.6 831.6 L1648.9 834.6 L1649.2 837.6 L1649.5 840.6 L1649.8 843.6 L1650.1 846.6 L1650.4 849.6 L1650.7 852.6 L1651.0 855.5 L1651.3 858.5 L1651.6 861.5 L1651.9 864.5 L1652.2 867.5 L1652.5 870.5 L1652.8 873.5 L1653.1 876.4 L1653.4 879.4 L1653.7 882.4 L1654.0 885.4 L1654.3 888.4 L1654.7 891.4 L1655.0 894.3 L1655.3 897.3 L1655.6 900.3 L1655.9 903.3 L1656.3 906.3 L1656.6 909.3 L1656.9 912.2 L1657.2 915.2 L1657.6 918.2 L1657.9 921.2 L1658.2 924.2 L1658.6 927.2 L1658.9 930.1 L1659.2 933.1 L1659.6 936.1 L1659.9 939.1 L1660.2 942.1 L1660.6 945.1 L1660.9 948.0 L1661.3 951.0 L1661.6 954.0 L1662.0 957.0 L1662.4 960.0 L1662.7 962.9 L1663.1 965.9 L1663.4 968.9 L1663.7 971.9 L1664.1 974.9 L1664.4 977.8 L1664.8 980.8 L1665.1 983.8 L1665.4 986.8 L1665.8 989.8 L1666.1 992.8 L1666.4 995.7 L1666.7 998.7 L1667.0 1001.7 L1667.3 1004.7 L1667.6 1007.7 L1667.8 1010.7 L1668.1 1013.7 L1668.4 1016.6 L1668.7 1019.6 L1668.9 1022.6 L1669.2 1025.6 L1669.5 1028.6 L1669.8 1031.6 L1670.0 1034.6 L1670.3 1037.6 L1670.6 1040.6 L1670.9 1043.5 L1671.2 1046.5 L1671.5 1049.5 L1671.8 1052.5 L1672.2 1055.5 L1672.5 1058.5 L1672.8 1061.4 L1673.2 1064.4 L1673.5 1067.4 L1673.9 1070.4 L1674.2 1073.4 L1674.6 1076.3 L1674.9 1079.3 L1675.3 1082.3 L1675.7 1085.3 L1676.0 1088.3 L1676.4 1091.2 L1676.8 1094.2 L1677.2 1097.2 L1677.6 1100.2 L1678.0 1103.1 L1678.4 1106.1 L1678.9 1109.1 L1679.3 1112.0 L1679.8 1115.0 L1680.3 1118.0 L1680.7 1120.9 L1681.2 1123.9 L1681.7 1126.8 L1682.3 1129.8 L1682.8 1132.8 L1683.3 1135.7 L1683.9 1138.7 L1684.4 1141.6 L1685.0 1144.6 L1685.5 1147.5 L1686.1 1150.5 L1686.6 1153.4 L1687.2 1156.4 L1687.8 1159.3 L1688.3 1162.2 L1688.9 1165.2 L1689.5 1168.1 L1690.1 1171.1 L1690.7 1174.0 L1691.4 1176.9 L1692.0 1179.9 L1692.7 1182.8 L1693.4 1185.7 L1694.1 1188.6 L1694.8 1191.5 L1695.6 1194.4 L1696.3 1197.3 L1697.1 1200.2 L1697.9 1203.1 L1698.8 1206.0 L1699.7 1208.9 L1700.6 1211.7 L1701.6 1214.6 L1702.6 1217.4 L1703.7 1220.2 L1704.8 1223.0 L1706.0 1225.7 L1707.2 1228.5 L1708.4 1231.2 L1709.7 1233.9 L1711.0 1236.6 L1712.4 1239.3 L1713.9 1241.8 L1715.7 1244.3 L1717.6 1246.5 L1719.7 1248.7 L1721.9 1250.7 L1724.2 1252.5 L1726.7 1254.2 L1729.3 1255.7 L1732.0 1257.0 L1734.8 1258.1 L1737.6 1259.0 L1740.5 1259.6 L1743.5 1260.1 L1746.5 1260.5 L1749.4 1260.8 L1752.4 1261.0 L1755.4 1261.2 L1758.4 1261.5 L1761.4 1261.7 L1764.4 1261.9 L1767.4 1262.0 L1770.4 1262.2 L1773.4 1262.3 L1776.4 1262.4 L1779.4 1262.4 L1782.4 1262.5 L1785.4 1262.5 L1788.4 1262.5 L1791.4 1262.6 L1794.4 1262.6 L1797.4 1262.6 L1800.4 1262.6 L1803.4 1262.6 L1806.4 1262.6 L1809.4 1262.6 L1812.4 1262.6 L1815.4 1262.7 L1818.4 1262.7 L1821.4 1262.7 L1824.4 1262.7 L1827.4 1262.8 L1830.4 1262.8 L1833.4 1262.8 L1836.4 1262.9 L1839.4 1262.9 L1842.4 1262.9 L1845.4 1262.9 L1848.4 1262.9 L1851.4 1263.0 L1854.4 1263.0 L1857.4 1263.0 L1860.4 1263.0 L1863.4 1263.0 L1866.4 1263.1 L1869.4 1263.1 L1872.4 1263.1 L1875.4 1263.1 L1878.4 1263.1 L1881.4 1263.1 L1884.4 1263.2 L1887.4 1263.2 L1890.4 1263.2 L1893.4 1263.2 L1896.4 1263.2 L1899.4 1263.2 L1902.4 1263.2 L1905.4 1263.2 L1908.4 1263.3 L1911.4 1263.3 L1914.4 1263.3 L1917.4 1263.3 L1920.4 1263.3 L1923.4 1263.3 L1926.4 1263.3 L1929.4 1263.3 L1932.4 1263.3 L1935.4 1263.4 L1938.4 1263.4 L1941.4 1263.4 L1944.4 1263.4 L1947.4 1263.4 L1950.4 1263.4 L1953.4 1263.4 L1956.4 1263.4 L1959.4 1263.4 L1962.4 1263.4 L1965.4 1263.5 L1968.4 1263.5 L1971.4 1263.5 L1974.4 1263.5 L1977.4 1263.5 L1980.4 1263.5 L1983.5 1263.5 L1986.5 1263.5 L1989.5 1263.5 L1992.5 1263.5 L1995.5 1263.5 L1998.5 1263.5 L2001.5 1263.6 L2004.5 1263.6 L2007.5 1263.6 L2010.5 1263.6 L2013.5 1263.6 L2016.5 1263.6 L2019.5 1263.6 L2022.5 1263.6 L2025.5 1263.6 L2028.5 1263.6 L2031.5 1263.6 L2034.5 1263.6 L2037.5 1263.6 L2040.5 1263.7 L2043.5 1263.7 L2046.5 1263.7 L2049.5 1263.7 L2052.5 1263.7 L2055.5 1263.7 L2058.5 1263.7 L2061.5 1263.7 L2064.5 1263.7 L2067.5 1263.7 L2070.5 1263.7 L2073.5 1263.7 L2076.5 1263.8 L2079.5 1263.8 L2082.5 1263.8 L2085.5 1263.8 L2088.5 1263.8 L2091.5 1263.8 L2094.5 1263.8 L2097.5 1263.8 L2100.5 1263.8 L2103.5 1263.8 L2106.5 1263.8 L2109.5 1263.9 L2112.5 1263.9 L2115.5 1263.9 L2118.5 1263.9 L2121.5 1263.9 L2124.5 1263.9 L2127.5 1263.9 L2130.5 1263.9 L2133.5 1263.9 L2136.5 1263.9 L2139.5 1264.0 L2142.5 1264.0 L2145.5 1264.0 L2148.5 1264.0 L2151.5 1264.0 L2152.5 1264.0" stroke="#EC6D1E"/><circle cx="2152.5" cy="1264.0" r="9.0" fill="#EC6D1E" stroke="none"/>
<path d="M745.0 69.0 L748.0 69.0 L751.0 69.1 L754.0 69.1 L757.0 69.1 L760.0 69.2 L763.0 69.2 L766.0 69.2 L769.0 69.2 L772.0 69.3 L775.0 69.3 L778.0 69.3 L781.0 69.4 L784.0 69.4 L787.0 69.4 L790.0 69.4 L793.0 69.5 L796.0 69.5 L799.0 69.5 L802.0 69.6 L805.0 69.6 L808.0 69.6 L811.0 69.7 L814.0 69.7 L817.0 69.7 L820.0 69.7 L823.0 69.8 L826.0 69.8 L829.0 69.8 L832.0 69.9 L835.0 69.9 L838.0 69.9 L841.0 69.9 L844.0 70.0 L847.0 70.0 L850.0 70.0 L853.0 70.1 L856.0 70.1 L859.0 70.1 L862.0 70.1 L865.0 70.2 L868.0 70.2 L871.0 70.2 L874.0 70.3 L877.0 70.3 L880.0 70.3 L883.0 70.3 L886.0 70.4 L889.0 70.4 L892.0 70.4 L895.0 70.5 L898.0 70.5 L901.0 70.5 L904.0 70.6 L907.0 70.6 L910.0 70.6 L913.0 70.6 L916.0 70.7 L919.0 70.7 L922.0 70.7 L925.0 70.8 L928.0 70.8 L931.0 70.8 L934.0 70.9 L937.0 70.9 L940.0 70.9 L943.0 71.0 L946.0 71.0 L949.0 71.0 L952.0 71.1 L955.0 71.1 L958.0 71.1 L961.0 71.1 L964.0 71.2 L967.1 71.2 L970.1 71.2 L973.1 71.3 L976.1 71.3 L979.1 71.4 L982.1 71.4 L985.1 71.4 L988.1 71.5 L991.1 71.5 L994.1 71.5 L997.1 71.6 L1000.1 71.6 L1003.1 71.6 L1006.1 71.7 L1009.1 71.7 L1012.1 71.8 L1015.1 71.8 L1018.1 71.8 L1021.1 71.9 L1024.1 71.9 L1027.1 72.0 L1030.1 72.0 L1033.1 72.0 L1036.1 72.1 L1039.1 72.1 L1042.1 72.2 L1045.1 72.2 L1048.1 72.3 L1051.1 72.3 L1054.1 72.4 L1057.1 72.4 L1060.1 72.4 L1063.1 72.5 L1066.1 72.5 L1069.1 72.6 L1072.1 72.6 L1075.1 72.7 L1078.1 72.7 L1081.1 72.8 L1084.1 72.8 L1087.1 72.9 L1090.1 72.9 L1093.1 73.0 L1096.1 73.0 L1099.1 73.1 L1102.1 73.1 L1105.1 73.2 L1108.1 73.2 L1111.1 73.3 L1114.1 73.3 L1117.1 73.4 L1120.1 73.4 L1123.1 73.5 L1126.1 73.5 L1129.1 73.6 L1132.1 73.6 L1135.1 73.7 L1138.1 73.7 L1141.1 73.8 L1144.1 73.8 L1147.1 73.9 L1150.1 73.9 L1153.1 74.0 L1156.1 74.1 L1159.1 74.1 L1162.1 74.2 L1165.1 74.2 L1168.1 74.3 L1171.1 74.4 L1174.1 74.4 L1177.1 74.5 L1180.1 74.5 L1183.1 74.6 L1186.1 74.7 L1189.1 74.7 L1192.1 74.8 L1195.1 74.9 L1198.1 75.0 L1201.1 75.0 L1204.1 75.1 L1207.1 75.2 L1210.1 75.3 L1213.1 75.4 L1216.1 75.4 L1219.1 75.5 L1222.1 75.6 L1225.1 75.7 L1228.1 75.8 L1231.1 75.9 L1234.1 75.9 L1237.1 76.0 L1240.1 76.1 L1243.1 76.2 L1246.1 76.3 L1249.1 76.4 L1252.1 76.5 L1255.1 76.6 L1258.1 76.7 L1261.1 76.8 L1264.1 76.9 L1267.1 77.0 L1270.1 77.1 L1273.1 77.2 L1276.1 77.3 L1279.1 77.5 L1282.1 77.6 L1285.1 77.7 L1288.1 77.8 L1291.1 77.9 L1294.1 78.1 L1297.1 78.2 L1300.1 78.3 L1303.1 78.5 L1306.0 78.6 L1309.0 78.7 L1312.0 78.9 L1315.0 79.0 L1318.0 79.1 L1321.0 79.3 L1324.0 79.4 L1327.0 79.6 L1330.0 79.7 L1333.0 79.8 L1336.0 80.0 L1339.0 80.1 L1342.0 80.3 L1345.0 80.5 L1348.0 80.6 L1351.0 80.8 L1354.0 80.9 L1357.0 81.1 L1360.0 81.3 L1363.0 81.4 L1366.0 81.6 L1369.0 81.8 L1372.0 82.0 L1375.0 82.2 L1378.0 82.4 L1381.0 82.6 L1384.0 82.8 L1386.9 83.0 L1389.9 83.3 L1392.9 83.5 L1395.9 83.8 L1398.9 84.0 L1401.9 84.3 L1404.9 84.5 L1407.9 84.8 L1410.9 85.1 L1413.8 85.4 L1416.8 85.7 L1419.8 86.1 L1422.8 86.4 L1425.8 86.8 L1428.7 87.1 L1431.7 87.5 L1434.7 87.9 L1437.7 88.3 L1440.6 88.7 L1443.6 89.2 L1446.6 89.7 L1449.5 90.2 L1452.5 90.7 L1455.4 91.2 L1458.4 91.8 L1461.3 92.4 L1464.2 93.0 L1467.2 93.6 L1470.1 94.3 L1473.0 95.1 L1475.9 95.9 L1478.7 96.7 L1481.6 97.6 L1484.4 98.6 L1487.2 99.6 L1489.9 100.7 L1492.6 101.9 L1495.2 103.2 L1497.8 104.6 L1500.4 106.1 L1502.8 107.8 L1505.2 109.5 L1507.6 111.2 L1509.9 113.1 L1512.2 115.0 L1514.4 117.0 L1516.6 119.1 L1518.7 121.1 L1520.8 123.3 L1522.9 125.4 L1525.0 127.5 L1527.1 129.7 L1529.1 131.9 L1531.1 134.1 L1533.2 136.3 L1535.1 138.6 L1537.1 140.8 L1539.1 143.1 L1541.0 145.4 L1542.8 147.8 L1544.6 150.1 L1546.4 152.5 L1548.1 155.0 L1549.8 157.5 L1551.4 160.0 L1553.0 162.5 L1554.5 165.1 L1556.0 167.7 L1557.4 170.3 L1558.8 173.0 L1560.2 175.6 L1561.5 178.3 L1562.8 181.0 L1564.1 183.7 L1565.3 186.4 L1566.5 189.2 L1567.7 191.9 L1568.9 194.7 L1570.0 197.5 L1571.2 200.2 L1572.3 203.0 L1573.3 205.8 L1574.4 208.6 L1575.4 211.4 L1576.4 214.3 L1577.4 217.1 L1578.4 219.9 L1579.3 222.8 L1580.2 225.6 L1581.1 228.5 L1582.0 231.4 L1582.8 234.3 L1583.6 237.1 L1584.4 240.0 L1585.2 242.9 L1586.0 245.8 L1586.7 248.7 L1587.4 251.6 L1588.2 254.5 L1588.9 257.5 L1589.5 260.4 L1590.2 263.3 L1590.9 266.2 L1591.5 269.2 L1592.2 272.1 L1592.8 275.0 L1593.4 278.0 L1594.0 280.9 L1594.6 283.8 L1595.2 286.8 L1595.8 289.7 L1596.4 292.7 L1597.0 295.6 L1597.6 298.5 L1598.1 301.5 L1598.7 304.4 L1599.3 307.4 L1599.8 310.3 L1600.4 313.3 L1601.0 316.2 L1601.5 319.2 L1602.1 322.1 L1602.6 325.1 L1603.2 328.0 L1603.7 331.0 L1604.2 333.9 L1604.8 336.9 L1605.3 339.8 L1605.8 342.8 L1606.4 345.7 L1606.9 348.7 L1607.4 351.7 L1608.0 354.6 L1608.5 357.6 L1609.0 360.5 L1609.5 363.5 L1610.0 366.4 L1610.5 369.4 L1611.0 372.3 L1611.5 375.3 L1612.0 378.3 L1612.5 381.2 L1613.0 384.2 L1613.5 387.1 L1614.0 390.1 L1614.5 393.1 L1615.0 396.0 L1615.5 399.0 L1615.9 402.0 L1616.4 404.9 L1616.9 407.9 L1617.3 410.8 L1617.8 413.8 L1618.3 416.8 L1618.7 419.7 L1619.2 422.7 L1619.7 425.7 L1620.1 428.6 L1620.6 431.6 L1621.0 434.6 L1621.5 437.5 L1621.9 440.5 L1622.4 443.5 L1622.8 446.4 L1623.2 449.4 L1623.7 452.4 L1624.1 455.3 L1624.5 458.3 L1625.0 461.3 L1625.4 464.2 L1625.8 467.2 L1626.3 470.2 L1626.7 473.2 L1627.1 476.1 L1627.5 479.1 L1627.9 482.1 L1628.3 485.0 L1628.8 488.0 L1629.2 491.0 L1629.6 494.0 L1630.0 496.9 L1630.4 499.9 L1630.8 502.9 L1631.2 505.9 L1631.6 508.8 L1632.0 511.8 L1632.4 514.8 L1632.8 517.8 L1633.2 520.7 L1633.5 523.7 L1633.9 526.7 L1634.3 529.7 L1634.7 532.6 L1635.1 535.6 L1635.5 538.6 L1635.8 541.6 L1636.2 544.5 L1636.6 547.5 L1637.0 550.5 L1637.3 553.5 L1637.7 556.5 L1638.1 559.4 L1638.4 562.4 L1638.8 565.4 L1639.2 568.4 L1639.5 571.3 L1639.9 574.3 L1640.3 577.3 L1640.6 580.3 L1641.0 583.3 L1641.3 586.2 L1641.7 589.2 L1642.0 592.2 L1642.4 595.2 L1642.7 598.2 L1643.1 601.1 L1643.4 604.1 L1643.8 607.1 L1644.1 610.1 L1644.5 613.1 L1644.8 616.0 L1645.2 619.0 L1645.5 622.0 L1645.9 625.0 L1646.2 628.0 L1646.5 631.0 L1646.9 633.9 L1647.2 636.9 L1647.6 639.9 L1647.9 642.9 L1648.2 645.9 L1648.6 648.8 L1648.9 651.8 L1649.2 654.8 L1649.6 657.8 L1649.9 660.8 L1650.2 663.8 L1650.5 666.7 L1650.9 669.7 L1651.2 672.7 L1651.5 675.7 L1651.9 678.7 L1652.2 681.7 L1652.5 684.6 L1652.8 687.6 L1653.2 690.6 L1653.5 693.6 L1653.8 696.6 L1654.1 699.6 L1654.4 702.5 L1654.8 705.5 L1655.1 708.5 L1655.4 711.5 L1655.7 714.5 L1656.0 717.5 L1656.4 720.4 L1656.7 723.4 L1657.0 726.4 L1657.3 729.4 L1657.6 732.4 L1658.0 735.4 L1658.3 738.3 L1658.6 741.3 L1658.9 744.3 L1659.2 747.3 L1659.5 750.3 L1659.9 753.3 L1660.2 756.2 L1660.5 759.2 L1660.8 762.2 L1661.1 765.2 L1661.4 768.2 L1661.8 771.2 L1662.1 774.2 L1662.4 777.1 L1662.7 780.1 L1663.0 783.1 L1663.4 786.1 L1663.7 789.1 L1664.0 792.1 L1664.3 795.0 L1664.6 798.0 L1664.9 801.0 L1665.3 804.0 L1665.6 807.0 L1665.9 810.0 L1666.2 812.9 L1666.5 815.9 L1666.9 818.9 L1667.2 821.9 L1667.5 824.9 L1667.8 827.9 L1668.1 830.8 L1668.5 833.8 L1668.8 836.8 L1669.1 839.8 L1669.4 842.8 L1669.8 845.8 L1670.1 848.7 L1670.4 851.7 L1670.7 854.7 L1671.1 857.7 L1671.4 860.7 L1671.7 863.7 L1672.1 866.6 L1672.4 869.6 L1672.7 872.6 L1673.1 875.6 L1673.4 878.6 L1673.7 881.6 L1674.1 884.5 L1674.4 887.5 L1674.8 890.5 L1675.1 893.5 L1675.5 896.5 L1675.8 899.4 L1676.2 902.4 L1676.5 905.4 L1676.8 908.4 L1677.2 911.4 L1677.5 914.3 L1677.8 917.3 L1678.2 920.3 L1678.5 923.3 L1678.8 926.3 L1679.1 929.3 L1679.4 932.2 L1679.7 935.2 L1680.0 938.2 L1680.3 941.2 L1680.6 944.2 L1680.9 947.2 L1681.1 950.2 L1681.4 953.2 L1681.7 956.1 L1681.9 959.1 L1682.2 962.1 L1682.4 965.1 L1682.7 968.1 L1683.0 971.1 L1683.2 974.1 L1683.5 977.1 L1683.8 980.1 L1684.1 983.0 L1684.4 986.0 L1684.7 989.0 L1685.0 992.0 L1685.3 995.0 L1685.6 998.0 L1686.0 1001.0 L1686.3 1003.9 L1686.6 1006.9 L1686.9 1009.9 L1687.2 1012.9 L1687.6 1015.9 L1687.9 1018.9 L1688.3 1021.8 L1688.6 1024.8 L1689.0 1027.8 L1689.3 1030.8 L1689.7 1033.7 L1690.1 1036.7 L1690.5 1039.7 L1690.9 1042.7 L1691.3 1045.6 L1691.8 1048.6 L1692.3 1051.6 L1692.8 1054.5 L1693.3 1057.5 L1693.8 1060.4 L1694.3 1063.4 L1694.9 1066.3 L1695.5 1069.3 L1696.1 1072.2 L1696.7 1075.2 L1697.4 1078.1 L1698.1 1081.0 L1698.8 1083.9 L1699.5 1086.8 L1700.2 1089.8 L1700.9 1092.7 L1701.6 1095.6 L1702.4 1098.5 L1703.2 1101.4 L1704.0 1104.3 L1704.9 1107.1 L1705.8 1110.0 L1706.8 1112.8 L1707.9 1115.6 L1709.0 1118.4 L1710.2 1121.1 L1711.5 1123.8 L1712.8 1126.5 L1714.3 1129.1 L1715.9 1131.7 L1717.7 1134.1 L1719.6 1136.3 L1721.8 1138.3 L1724.1 1140.2 L1726.6 1141.8 L1729.2 1143.3 L1731.9 1144.6 L1734.7 1145.8 L1737.5 1146.8 L1740.3 1147.7 L1743.2 1148.5 L1746.1 1149.2 L1749.1 1149.8 L1752.0 1150.3 L1755.0 1150.7 L1758.0 1151.1 L1761.0 1151.3 L1764.0 1151.6 L1767.0 1151.8 L1770.0 1152.0 L1773.0 1152.1 L1776.0 1152.3 L1779.0 1152.4 L1782.0 1152.5 L1784.9 1152.6 L1787.9 1152.8 L1790.9 1152.9 L1793.9 1153.0 L1796.9 1153.2 L1799.9 1153.3 L1802.9 1153.4 L1805.9 1153.6 L1808.9 1153.7 L1811.9 1153.8 L1814.9 1153.9 L1817.9 1154.0 L1820.9 1154.1 L1823.9 1154.2 L1826.9 1154.3 L1829.9 1154.4 L1832.9 1154.4 L1835.9 1154.5 L1838.9 1154.6 L1841.9 1154.6 L1844.9 1154.7 L1847.9 1154.8 L1850.9 1154.8 L1853.9 1154.9 L1856.9 1154.9 L1859.9 1155.0 L1862.9 1155.0 L1865.9 1155.0 L1868.9 1155.1 L1871.9 1155.1 L1874.9 1155.2 L1877.9 1155.2 L1880.9 1155.2 L1883.9 1155.3 L1886.9 1155.3 L1889.9 1155.3 L1892.9 1155.4 L1895.9 1155.4 L1898.9 1155.4 L1901.9 1155.4 L1904.9 1155.5 L1907.9 1155.5 L1910.9 1155.5 L1913.9 1155.5 L1916.9 1155.6 L1919.9 1155.6 L1922.9 1155.6 L1925.9 1155.6 L1928.9 1155.6 L1931.9 1155.6 L1934.9 1155.7 L1937.9 1155.7 L1940.9 1155.7 L1943.9 1155.7 L1946.9 1155.7 L1950.0 1155.7 L1953.0 1155.7 L1956.0 1155.7 L1959.0 1155.8 L1962.0 1155.8 L1965.0 1155.8 L1968.0 1155.8 L1971.0 1155.8 L1974.0 1155.8 L1977.0 1155.8 L1980.0 1155.8 L1983.0 1155.8 L1986.0 1155.8 L1989.0 1155.9 L1992.0 1155.9 L1995.0 1155.9 L1998.0 1155.9 L2001.0 1155.9 L2004.0 1155.9 L2007.0 1155.9 L2010.0 1155.9 L2013.0 1155.9 L2016.0 1155.9 L2019.0 1155.9 L2022.0 1155.9 L2025.0 1156.0 L2028.0 1156.0 L2031.0 1156.0 L2034.0 1156.0 L2037.0 1156.0 L2040.0 1156.0 L2043.0 1156.0 L2046.0 1156.0 L2049.0 1156.0 L2052.0 1156.0 L2055.0 1156.0 L2058.0 1156.1 L2061.0 1156.1 L2064.0 1156.1 L2067.0 1156.1 L2070.0 1156.1 L2073.0 1156.1 L2076.0 1156.1 L2079.0 1156.1 L2082.0 1156.1 L2085.0 1156.2 L2088.0 1156.2 L2091.0 1156.2 L2094.0 1156.2 L2097.0 1156.2 L2100.0 1156.2 L2103.0 1156.3 L2106.0 1156.3 L2109.0 1156.3 L2112.0 1156.3 L2115.0 1156.3 L2118.0 1156.4 L2121.0 1156.4 L2124.0 1156.4 L2127.0 1156.4 L2130.0 1156.4 L2133.0 1156.5 L2136.0 1156.5" stroke="#8F8F8F"/><circle cx="2136.0" cy="1156.5" r="9.0" fill="#8F8F8F" stroke="none"/>
<path d="M745.0 68.5 L748.0 68.5 L751.0 68.5 L754.0 68.6 L757.0 68.6 L760.0 68.6 L763.0 68.6 L766.0 68.7 L769.0 68.7 L772.0 68.7 L775.0 68.7 L778.0 68.8 L781.0 68.8 L784.0 68.8 L787.0 68.8 L790.0 68.9 L793.0 68.9 L796.0 68.9 L799.0 68.9 L802.0 68.9 L805.0 69.0 L808.0 69.0 L811.0 69.0 L814.0 69.0 L817.0 69.1 L820.0 69.1 L823.0 69.1 L826.0 69.1 L829.0 69.1 L832.0 69.2 L835.0 69.2 L838.0 69.2 L841.0 69.2 L844.0 69.3 L847.0 69.3 L850.0 69.3 L853.0 69.3 L856.0 69.3 L859.0 69.4 L862.0 69.4 L865.0 69.4 L868.0 69.4 L871.0 69.5 L874.0 69.5 L877.0 69.5 L880.0 69.5 L883.0 69.6 L886.0 69.6 L889.0 69.6 L892.0 69.6 L895.0 69.6 L898.0 69.7 L901.0 69.7 L904.0 69.7 L907.0 69.7 L910.0 69.8 L913.0 69.8 L916.0 69.8 L919.0 69.8 L922.0 69.9 L925.0 69.9 L928.0 69.9 L931.0 69.9 L934.0 70.0 L937.0 70.0 L940.0 70.0 L943.0 70.0 L946.0 70.1 L949.0 70.1 L952.0 70.1 L955.0 70.1 L958.0 70.2 L961.0 70.2 L964.0 70.2 L967.0 70.3 L970.0 70.3 L973.0 70.3 L976.0 70.3 L979.0 70.4 L982.0 70.4 L985.0 70.4 L988.0 70.5 L991.0 70.5 L994.0 70.5 L997.0 70.6 L1000.0 70.6 L1003.0 70.6 L1006.0 70.7 L1009.0 70.7 L1012.0 70.8 L1015.0 70.8 L1018.0 70.8 L1021.0 70.9 L1024.0 70.9 L1027.0 70.9 L1030.0 71.0 L1033.0 71.0 L1036.0 71.1 L1039.0 71.1 L1042.0 71.2 L1045.0 71.2 L1048.0 71.3 L1051.0 71.3 L1054.0 71.3 L1057.0 71.4 L1060.0 71.4 L1063.0 71.5 L1066.0 71.5 L1069.0 71.6 L1072.0 71.6 L1075.0 71.7 L1078.0 71.7 L1081.0 71.8 L1084.0 71.8 L1087.0 71.9 L1090.0 71.9 L1093.0 72.0 L1096.0 72.0 L1099.0 72.1 L1102.0 72.1 L1105.0 72.2 L1108.0 72.2 L1111.0 72.3 L1114.0 72.3 L1117.0 72.4 L1120.0 72.4 L1123.0 72.5 L1126.0 72.5 L1129.0 72.6 L1132.0 72.6 L1135.0 72.7 L1138.0 72.7 L1141.0 72.8 L1144.0 72.8 L1147.0 72.9 L1150.0 72.9 L1153.0 73.0 L1156.0 73.0 L1159.0 73.1 L1162.0 73.1 L1165.0 73.2 L1168.0 73.2 L1171.0 73.3 L1174.0 73.3 L1177.0 73.4 L1180.0 73.5 L1183.0 73.5 L1186.0 73.6 L1189.0 73.7 L1192.0 73.7 L1195.0 73.8 L1198.0 73.9 L1201.0 73.9 L1204.0 74.0 L1207.0 74.1 L1210.0 74.2 L1213.0 74.2 L1216.0 74.3 L1219.0 74.4 L1222.0 74.5 L1225.0 74.6 L1228.0 74.6 L1231.0 74.7 L1234.0 74.8 L1237.0 74.9 L1240.0 75.0 L1243.0 75.1 L1246.0 75.2 L1249.0 75.3 L1252.0 75.3 L1255.0 75.4 L1258.0 75.5 L1261.0 75.6 L1264.0 75.7 L1267.0 75.8 L1270.0 75.9 L1273.0 76.1 L1276.0 76.2 L1279.0 76.3 L1281.9 76.4 L1284.9 76.5 L1287.9 76.6 L1290.9 76.7 L1293.9 76.9 L1296.9 77.0 L1299.9 77.1 L1302.9 77.2 L1305.9 77.4 L1308.9 77.5 L1311.9 77.6 L1314.9 77.8 L1317.9 77.9 L1320.9 78.1 L1323.9 78.2 L1326.9 78.3 L1329.9 78.5 L1332.9 78.6 L1335.9 78.8 L1338.9 78.9 L1341.9 79.1 L1344.9 79.2 L1347.9 79.4 L1350.9 79.5 L1353.9 79.7 L1356.9 79.9 L1359.9 80.0 L1362.9 80.2 L1365.9 80.4 L1368.9 80.5 L1371.8 80.7 L1374.8 80.9 L1377.8 81.1 L1380.8 81.3 L1383.8 81.5 L1386.8 81.7 L1389.8 81.9 L1392.8 82.1 L1395.8 82.3 L1398.8 82.6 L1401.8 82.8 L1404.8 83.0 L1407.8 83.3 L1410.7 83.5 L1413.7 83.8 L1416.7 84.0 L1419.7 84.3 L1422.7 84.6 L1425.7 84.9 L1428.7 85.2 L1431.6 85.6 L1434.6 85.9 L1437.6 86.3 L1440.6 86.6 L1443.5 87.0 L1446.5 87.5 L1449.5 87.9 L1452.5 88.3 L1455.4 88.8 L1458.4 89.3 L1461.3 89.7 L1464.3 90.3 L1467.2 90.8 L1470.2 91.3 L1473.1 91.9 L1476.1 92.5 L1479.0 93.2 L1481.9 93.9 L1484.8 94.6 L1487.7 95.4 L1490.5 96.2 L1493.4 97.1 L1496.2 98.1 L1499.0 99.2 L1501.7 100.3 L1504.4 101.5 L1507.1 102.8 L1509.7 104.2 L1512.2 105.7 L1514.8 107.3 L1517.2 108.9 L1519.6 110.7 L1522.0 112.5 L1524.3 114.4 L1526.5 116.3 L1528.7 118.3 L1530.8 120.4 L1532.9 122.5 L1535.0 124.7 L1537.0 126.9 L1538.9 129.2 L1540.9 131.5 L1542.7 133.8 L1544.6 136.2 L1546.4 138.5 L1548.2 140.9 L1549.9 143.4 L1551.7 145.8 L1553.3 148.3 L1555.0 150.8 L1556.6 153.3 L1558.2 155.9 L1559.7 158.4 L1561.2 161.0 L1562.7 163.6 L1564.1 166.3 L1565.5 168.9 L1566.9 171.6 L1568.2 174.2 L1569.6 176.9 L1570.9 179.6 L1572.2 182.3 L1573.4 185.0 L1574.7 187.8 L1575.9 190.5 L1577.1 193.2 L1578.4 196.0 L1579.5 198.7 L1580.7 201.5 L1581.9 204.3 L1583.0 207.0 L1584.1 209.8 L1585.2 212.6 L1586.3 215.4 L1587.4 218.2 L1588.4 221.0 L1589.5 223.8 L1590.5 226.7 L1591.5 229.5 L1592.4 232.3 L1593.4 235.2 L1594.3 238.0 L1595.2 240.9 L1596.1 243.7 L1596.9 246.6 L1597.8 249.5 L1598.6 252.4 L1599.4 255.3 L1600.1 258.2 L1600.9 261.1 L1601.6 264.0 L1602.3 266.9 L1603.0 269.8 L1603.7 272.7 L1604.3 275.6 L1605.0 278.6 L1605.6 281.5 L1606.3 284.4 L1606.9 287.4 L1607.5 290.3 L1608.1 293.2 L1608.7 296.2 L1609.3 299.1 L1609.9 302.0 L1610.5 305.0 L1611.1 307.9 L1611.7 310.9 L1612.3 313.8 L1612.9 316.7 L1613.5 319.7 L1614.1 322.6 L1614.7 325.6 L1615.3 328.5 L1615.9 331.5 L1616.5 334.4 L1617.1 337.3 L1617.6 340.3 L1618.2 343.2 L1618.8 346.2 L1619.3 349.1 L1619.9 352.1 L1620.5 355.0 L1621.0 358.0 L1621.6 360.9 L1622.1 363.9 L1622.7 366.8 L1623.2 369.8 L1623.8 372.7 L1624.3 375.7 L1624.8 378.6 L1625.4 381.6 L1625.9 384.5 L1626.4 387.5 L1626.9 390.4 L1627.5 393.4 L1628.0 396.3 L1628.5 399.3 L1629.0 402.2 L1629.5 405.2 L1630.0 408.2 L1630.5 411.1 L1631.0 414.1 L1631.5 417.0 L1632.0 420.0 L1632.5 423.0 L1633.0 425.9 L1633.4 428.9 L1633.9 431.8 L1634.4 434.8 L1634.9 437.8 L1635.3 440.7 L1635.8 443.7 L1636.3 446.7 L1636.7 449.6 L1637.2 452.6 L1637.7 455.5 L1638.1 458.5 L1638.6 461.5 L1639.0 464.4 L1639.5 467.4 L1639.9 470.4 L1640.4 473.3 L1640.8 476.3 L1641.2 479.3 L1641.7 482.2 L1642.1 485.2 L1642.5 488.2 L1643.0 491.2 L1643.4 494.1 L1643.8 497.1 L1644.3 500.1 L1644.7 503.0 L1645.1 506.0 L1645.5 509.0 L1645.9 511.9 L1646.4 514.9 L1646.8 517.9 L1647.2 520.9 L1647.6 523.8 L1648.0 526.8 L1648.4 529.8 L1648.8 532.8 L1649.2 535.7 L1649.6 538.7 L1650.0 541.7 L1650.4 544.6 L1650.8 547.6 L1651.2 550.6 L1651.6 553.6 L1652.0 556.5 L1652.4 559.5 L1652.8 562.5 L1653.2 565.5 L1653.5 568.4 L1653.9 571.4 L1654.3 574.4 L1654.7 577.4 L1655.1 580.3 L1655.5 583.3 L1655.8 586.3 L1656.2 589.3 L1656.6 592.2 L1657.0 595.2 L1657.4 598.2 L1657.7 601.2 L1658.1 604.2 L1658.5 607.1 L1658.8 610.1 L1659.2 613.1 L1659.6 616.1 L1660.0 619.0 L1660.3 622.0 L1660.7 625.0 L1661.1 628.0 L1661.4 630.9 L1661.8 633.9 L1662.2 636.9 L1662.5 639.9 L1662.9 642.9 L1663.3 645.8 L1663.6 648.8 L1664.0 651.8 L1664.4 654.8 L1664.7 657.7 L1665.1 660.7 L1665.5 663.7 L1665.8 666.7 L1666.2 669.7 L1666.5 672.6 L1666.9 675.6 L1667.3 678.6 L1667.6 681.6 L1668.0 684.5 L1668.4 687.5 L1668.7 690.5 L1669.1 693.5 L1669.4 696.5 L1669.8 699.4 L1670.2 702.4 L1670.5 705.4 L1670.9 708.4 L1671.3 711.3 L1671.6 714.3 L1672.0 717.3 L1672.4 720.3 L1672.7 723.3 L1673.1 726.2 L1673.5 729.2 L1673.8 732.2 L1674.2 735.2 L1674.6 738.1 L1674.9 741.1 L1675.3 744.1 L1675.7 747.1 L1676.1 750.1 L1676.4 753.0 L1676.8 756.0 L1677.2 759.0 L1677.5 762.0 L1677.9 764.9 L1678.3 767.9 L1678.7 770.9 L1679.1 773.9 L1679.4 776.8 L1679.8 779.8 L1680.2 782.8 L1680.6 785.8 L1681.0 788.7 L1681.4 791.7 L1681.7 794.7 L1682.1 797.7 L1682.5 800.6 L1682.9 803.6 L1683.3 806.6 L1683.7 809.6 L1684.1 812.5 L1684.5 815.5 L1684.9 818.5 L1685.3 821.5 L1685.7 824.4 L1686.1 827.4 L1686.5 830.4 L1686.9 833.4 L1687.3 836.3 L1687.7 839.3 L1688.1 842.3 L1688.5 845.2 L1688.9 848.2 L1689.4 851.2 L1689.8 854.2 L1690.2 857.1 L1690.6 860.1 L1691.0 863.1 L1691.5 866.0 L1691.9 869.0 L1692.3 872.0 L1692.8 874.9 L1693.2 877.9 L1693.6 880.9 L1694.1 883.9 L1694.5 886.8 L1694.9 889.8 L1695.4 892.8 L1695.8 895.7 L1696.3 898.7 L1696.7 901.7 L1697.2 904.6 L1697.6 907.6 L1698.1 910.6 L1698.5 913.5 L1699.0 916.5 L1699.5 919.4 L1700.0 922.4 L1700.4 925.4 L1700.9 928.3 L1701.4 931.3 L1701.9 934.2 L1702.5 937.2 L1703.0 940.1 L1703.5 943.1 L1704.1 946.0 L1704.6 949.0 L1705.2 951.9 L1705.8 954.9 L1706.4 957.8 L1707.0 960.8 L1707.5 963.7 L1708.1 966.7 L1708.7 969.6 L1709.4 972.5 L1710.0 975.5 L1710.7 978.4 L1711.3 981.3 L1712.1 984.2 L1712.8 987.1 L1713.6 990.0 L1714.4 992.9 L1715.4 995.7 L1716.5 998.5 L1717.8 1001.2 L1719.3 1003.8 L1721.0 1006.2 L1722.8 1008.6 L1724.8 1010.8 L1727.0 1012.8 L1729.3 1014.7 L1731.8 1016.3 L1734.5 1017.7 L1737.2 1019.0 L1739.9 1020.2 L1742.7 1021.2 L1745.6 1022.2 L1748.4 1023.0 L1751.3 1023.8 L1754.2 1024.5 L1757.2 1025.1 L1760.1 1025.7 L1763.1 1026.1 L1766.1 1026.5 L1769.1 1026.9 L1772.0 1027.2 L1775.0 1027.4 L1778.0 1027.7 L1781.0 1027.9 L1784.0 1028.0 L1787.0 1028.1 L1790.0 1028.2 L1793.0 1028.3 L1796.0 1028.4 L1799.0 1028.5 L1802.0 1028.5 L1805.0 1028.6 L1808.0 1028.6 L1811.0 1028.7 L1814.0 1028.7 L1817.0 1028.7 L1820.0 1028.7 L1823.0 1028.7 L1826.0 1028.7 L1829.0 1028.7 L1832.0 1028.7 L1835.0 1028.7 L1838.0 1028.7 L1841.0 1028.7 L1844.0 1028.7 L1847.0 1028.7 L1850.0 1028.8 L1853.0 1028.8 L1856.0 1028.8 L1859.0 1028.8 L1862.0 1028.8 L1865.0 1028.9 L1868.0 1028.9 L1871.0 1028.9 L1874.0 1029.0 L1877.0 1029.0 L1880.0 1029.0 L1883.0 1029.1 L1886.0 1029.1 L1889.0 1029.1 L1892.0 1029.2 L1895.0 1029.2 L1898.0 1029.3 L1901.0 1029.3 L1904.0 1029.3 L1907.0 1029.4 L1910.0 1029.4 L1913.0 1029.5 L1916.0 1029.5 L1919.0 1029.5 L1922.0 1029.6 L1925.0 1029.6 L1928.0 1029.7 L1931.0 1029.7 L1934.0 1029.7 L1937.0 1029.8 L1940.0 1029.8 L1943.0 1029.9 L1946.0 1029.9 L1949.0 1029.9 L1952.0 1030.0 L1955.0 1030.0 L1958.0 1030.1 L1961.0 1030.1 L1964.0 1030.1 L1967.0 1030.2 L1970.0 1030.2 L1973.0 1030.2 L1976.0 1030.3 L1979.0 1030.3 L1982.0 1030.3 L1985.0 1030.4 L1988.0 1030.4 L1991.0 1030.4 L1994.0 1030.4 L1997.0 1030.5 L2000.0 1030.5 L2003.0 1030.5 L2006.0 1030.5 L2009.0 1030.6 L2012.0 1030.6 L2015.0 1030.6 L2018.0 1030.6 L2021.0 1030.6 L2024.0 1030.7 L2027.0 1030.7 L2030.0 1030.7 L2033.0 1030.7 L2036.0 1030.7 L2039.0 1030.7 L2042.0 1030.7 L2045.0 1030.7 L2048.0 1030.8 L2051.0 1030.8 L2054.0 1030.8 L2057.0 1030.8 L2060.0 1030.8 L2063.0 1030.8 L2066.0 1030.8 L2069.0 1030.8 L2072.0 1030.8 L2075.0 1030.8 L2078.0 1030.8 L2081.0 1030.9 L2084.0 1030.9 L2087.0 1030.9 L2090.0 1030.9 L2093.0 1030.9 L2096.0 1030.9 L2099.0 1030.9 L2102.0 1030.9 L2105.0 1030.9 L2108.0 1030.9 L2111.0 1030.9 L2114.0 1030.9 L2117.0 1030.9 L2120.0 1030.9 L2123.0 1031.0 L2126.0 1031.0 L2129.0 1031.0 L2132.0 1031.0 L2135.0 1031.0 L2138.0 1031.0" stroke="#F1A900"/><circle cx="2138.0" cy="1031.0" r="9.0" fill="#F1A900" stroke="none"/>
</g>
<line x1="661" y1="284.0" x2="817" y2="284.0" stroke="#1487C0" stroke-width="18" stroke-linecap="round"/>
<text transform="translate(832.5 308.3) scale(0.85 1)" class="lg">SN0</text>
<line x1="661" y1="420.8" x2="817" y2="420.8" stroke="#EC6D1E" stroke-width="18" stroke-linecap="round"/>
<text transform="translate(832.5 445.1) scale(0.85 1)" class="lg">SN10</text>
<line x1="661" y1="557.6" x2="817" y2="557.6" stroke="#8F8F8F" stroke-width="18" stroke-linecap="round"/>
<text transform="translate(832.5 581.9) scale(0.85 1)" class="lg">SN20</text>
<line x1="661" y1="694.4" x2="817" y2="694.4" stroke="#F1A900" stroke-width="18" stroke-linecap="round"/>
<text transform="translate(832.5 718.7) scale(0.85 1)" class="lg">SN30</text>

<g class="yl"><text transform="translate(324.5 1354.5) scale(1.025 1)" text-anchor="end">0</text>
<text transform="translate(324.5 1228.5) scale(1.025 1)" text-anchor="end">10</text>
<text transform="translate(324.5 1102.4) scale(1.025 1)" text-anchor="end">20</text>
<text transform="translate(324.5 976.3) scale(1.025 1)" text-anchor="end">30</text>
<text transform="translate(324.5 850.3) scale(1.025 1)" text-anchor="end">40</text>
<text transform="translate(324.5 724.2) scale(1.025 1)" text-anchor="end">50</text>
<text transform="translate(324.5 598.2) scale(1.025 1)" text-anchor="end">60</text>
<text transform="translate(324.5 472.1) scale(1.025 1)" text-anchor="end">70</text>
<text transform="translate(324.5 346.1) scale(1.025 1)" text-anchor="end">80</text>
<text transform="translate(324.5 220.0) scale(1.025 1)" text-anchor="end">90</text>
<text transform="translate(324.5 94.0) scale(0.995 1)" text-anchor="end">100</text>
</g>
<g class="xl"><text transform="translate(413.4 1456.5) scale(0.935 1)" text-anchor="middle">25</text>
<text transform="translate(720.8 1456.5) scale(0.935 1)" text-anchor="middle">125</text>
<text transform="translate(1028.2 1456.5) scale(0.935 1)" text-anchor="middle">225</text>
<text transform="translate(1335.6 1456.5) scale(0.935 1)" text-anchor="middle">325</text>
<text transform="translate(1643.0 1456.5) scale(0.935 1)" text-anchor="middle">425</text>
<text transform="translate(1950.4 1456.5) scale(0.935 1)" text-anchor="middle">525</text>
<text transform="translate(2257.8 1456.5) scale(0.935 1)" text-anchor="middle">625</text>
</g>
<text class="ttl" transform="translate(1369.5 1625.8) scale(0.953 1)" text-anchor="middle">Temperature (<tspan font-size="76" dy="-39">o</tspan><tspan dy="39">C)</tspan></text>
<text class="ttl" transform="translate(122 699.4) rotate(-90) scale(0.948 1)" text-anchor="middle">Weight (%)</text>
</svg></div>
</body></html>
